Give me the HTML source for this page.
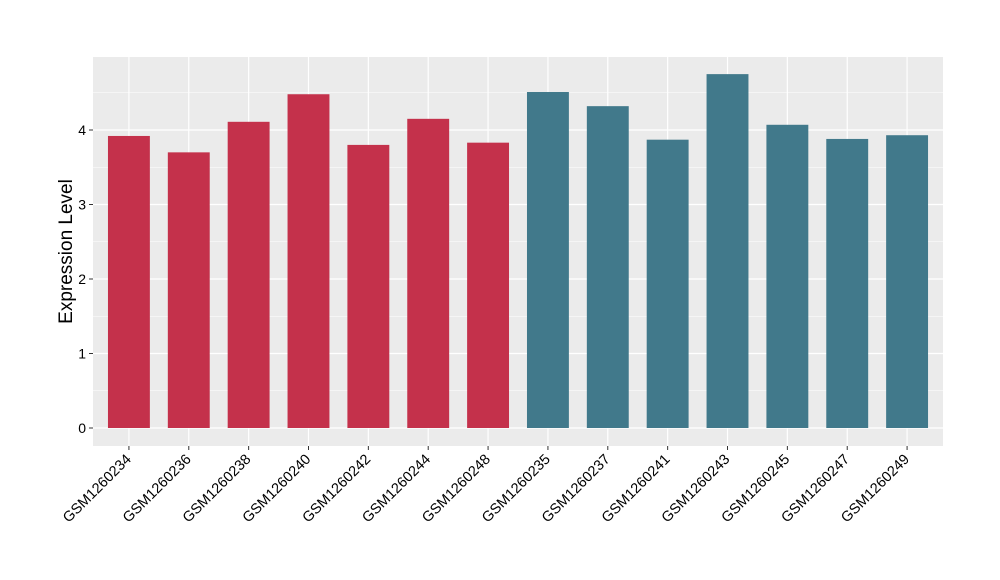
<!DOCTYPE html>
<html><head><meta charset="utf-8"><style>body{margin:0;background:#fff}svg{display:block;font-family:"Liberation Sans",sans-serif}</style></head>
<body>
<svg id="chart" width="1000" height="580"></svg>
<script>
const categories=["GSM1260234","GSM1260236","GSM1260238","GSM1260240","GSM1260242","GSM1260244","GSM1260248","GSM1260235","GSM1260237","GSM1260241","GSM1260243","GSM1260245","GSM1260247","GSM1260249"];
const values=[3.92,3.70,4.11,4.48,3.80,4.15,3.83,4.51,4.32,3.87,4.75,4.07,3.88,3.93];
const groups=["a","a","a","a","a","a","a","b","b","b","b","b","b","b"];
const yTicks=[0,1,2,3,4];
const NS="http://www.w3.org/2000/svg";
const svg=document.getElementById('chart');
const L=93,R=943,T=57,B=446;
const y0=428,pxPer=74.5;
const y=v=>y0-v*pxPer;
const step=(R-L)/(categories.length-1+1.2);
const x=i=>L+step*(0.6+i);
function mk(t,a){const e=document.createElementNS(NS,t);for(const k in a)e.setAttribute(k,a[k]);svg.appendChild(e);return e;}
const panel=mk('rect',{x:L,y:T,width:R-L,height:B-T,fill:'#ebebeb'});


for(let i=0;i<yTicks.length-1;i++){const m=(yTicks[i]+yTicks[i+1])/2;mk('line',{x1:L,x2:R,y1:y(m),y2:y(m),stroke:'#fff','stroke-width':0.6});}
{const m=yTicks[yTicks.length-1]+0.5;if(y(m)>T)mk('line',{x1:L,x2:R,y1:y(m),y2:y(m),stroke:'#fff','stroke-width':0.6});}
yTicks.forEach(v=>{
const g=mk('line',{x1:L,x2:R,y1:y(v),y2:y(v),stroke:'#fff','stroke-width':1.2});


mk('line',{x1:L-4,x2:L,y1:y(v),y2:y(v),stroke:'#333','stroke-width':1});
const t=mk('text',{x:L-7,y:y(v)+5,'text-anchor':'end','font-size':14,fill:'#000'});t.textContent=v;


});
categories.forEach((c,i)=>{mk('line',{x1:x(i),x2:x(i),y1:T,y2:B,stroke:'#fff','stroke-width':1.2});});
const bw=step*0.7;
categories.forEach((c,i)=>{
const b=mk('rect',{x:x(i)-bw/2,y:y(values[i]),width:bw,height:y0-y(values[i]),fill:groups[i]=='a'?'#c4314b':'#41798b'});


mk('line',{x1:x(i),x2:x(i),y1:B,y2:B+4,stroke:'#333','stroke-width':1});
const t=mk('text',{transform:`translate(${x(i)+3},${B+14}) rotate(-45)`,'text-anchor':'end','font-size':14.5,fill:'#000'});t.textContent=c;


});
const yt=mk('text',{transform:`translate(72,${(T+B)/2}) rotate(-90)`,'text-anchor':'middle','font-size':19,fill:'#000'});yt.textContent='Expression Level';


</script>
</body></html>
